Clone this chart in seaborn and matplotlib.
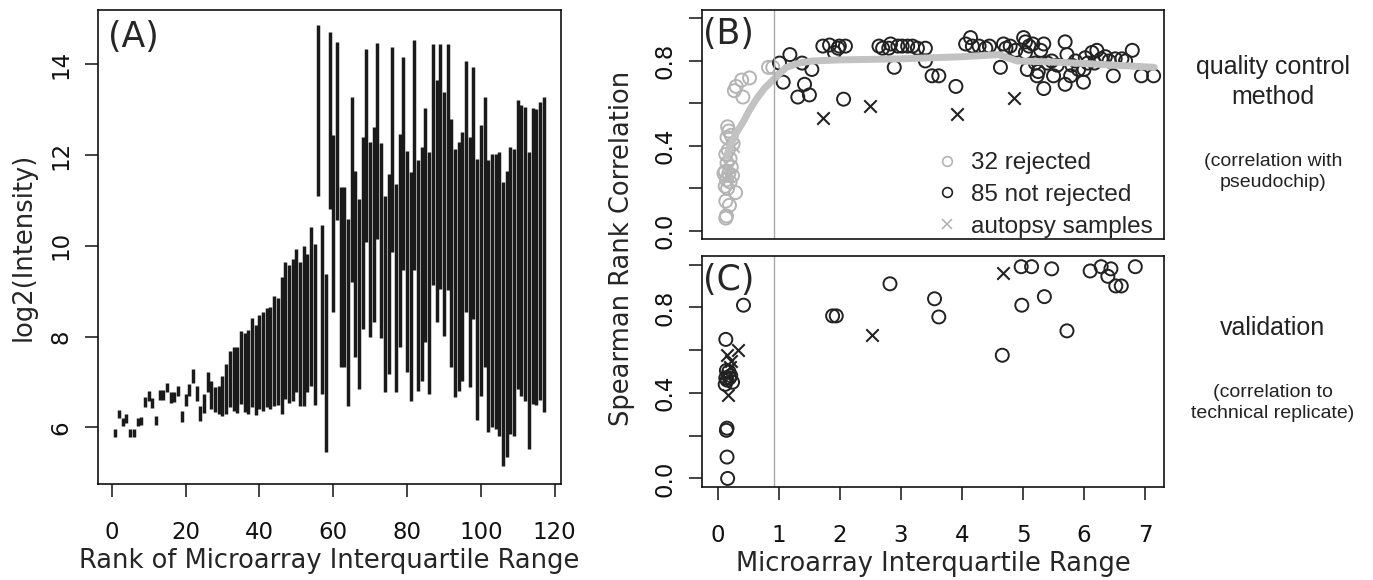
import numpy as np
import pandas as pd
import matplotlib
matplotlib.use("Agg")
import matplotlib.pyplot as plt
from matplotlib.lines import Line2D
import seaborn as sns

# (A) interquartile range of log2 intensity for each array, ordered by rank
iqr_rank = list(range(1, 118))
iqr_low = [5.78, 6.20, 6.03, 6.10, 5.78, 5.78, 6.03, 6.05, 6.45, 6.59,
           6.43, 6.04, 6.61, 6.61, 6.77, 6.53, 6.55, 6.69, 6.11, 6.48,
           6.70, 6.98, 6.59, 6.13, 6.32, 6.78, 6.41, 6.34, 6.30, 6.26,
           6.30, 6.45, 6.37, 6.32, 6.51, 6.34, 6.29, 6.44, 6.27, 6.41,
           6.37, 6.44, 6.41, 6.48, 6.49, 6.29, 6.62, 6.53, 6.58, 6.78,
           6.48, 6.48, 6.78, 6.92, 6.50, 11.11, 6.74, 5.46, 10.82, 8.54,
           10.56, 7.32, 7.32, 6.48, 9.20, 7.55, 6.85, 8.17, 10.08, 7.99,
           8.32, 10.16, 7.97, 6.77, 7.18, 9.86, 6.77, 7.77, 9.46, 7.21,
           6.59, 9.46, 6.81, 7.03, 7.88, 6.74, 9.13, 8.32, 9.05, 8.02,
           9.02, 7.32, 6.66, 6.81, 7.03, 8.54, 6.88, 8.39, 6.15, 6.70,
           7.32, 5.89, 6.00, 5.96, 5.81, 5.15, 5.34, 5.85, 5.80, 6.85,
           6.70, 6.59, 5.52, 6.52, 6.50, 6.60, 6.33]
iqr_high = [5.96, 6.38, 6.20, 6.29, 5.96, 5.96, 6.20, 6.22, 6.66, 6.79,
            6.64, 6.26, 6.83, 6.83, 6.98, 6.77, 6.78, 6.92, 6.37, 6.74,
            6.96, 7.29, 6.90, 6.48, 6.73, 7.22, 7.03, 6.89, 6.92, 7.14,
            7.40, 7.69, 7.77, 7.76, 8.12, 8.07, 8.15, 8.40, 8.26, 8.48,
            8.55, 8.62, 8.65, 8.89, 8.85, 9.31, 9.64, 9.58, 9.70, 9.92,
            9.64, 10.00, 9.83, 10.41, 10.05, 14.87, 10.47, 9.37, 14.72, 12.44,
            14.50, 11.30, 11.30, 10.60, 13.28, 11.66, 11.04, 12.40, 14.35, 12.29,
            12.62, 14.48, 12.26, 11.11, 11.59, 14.39, 11.36, 12.47, 14.17, 12.10,
            11.63, 14.53, 11.89, 12.18, 13.03, 12.07, 14.46, 13.65, 14.46, 13.39,
            14.44, 12.80, 12.14, 12.29, 12.51, 14.07, 12.40, 13.95, 11.92, 12.66,
            13.28, 11.89, 12.03, 12.03, 12.07, 11.41, 11.64, 12.18, 12.14, 13.21,
            13.11, 13.06, 12.07, 13.03, 13.02, 13.18, 13.28]

# (B) correlation with pseudochip vs IQR
rej_x = [0.13, 0.14, 0.13, 0.29, 0.16, 0.14, 0.20, 0.18, 0.12, 0.22,
         0.15, 0.13, 0.20, 0.17, 0.15, 0.18, 0.16, 0.22, 0.27, 0.30,
         0.41, 0.39, 0.52, 0.83, 0.90, 0.25, 0.12, 0.19, 0.10, 0.24]
rej_y = [0.06, 0.07, 0.14, 0.18, 0.20, 0.24, 0.23, 0.27, 0.28, 0.30,
         0.32, 0.36, 0.34, 0.38, 0.44, 0.47, 0.49, 0.45, 0.66, 0.68,
         0.63, 0.71, 0.72, 0.77, 0.77, 0.41, 0.21, 0.12, 0.27, 0.26]
keep_x = [1.01, 1.18, 1.07, 1.38, 1.54, 1.31, 1.42, 1.50, 2.06, 1.72,
          1.83, 1.91, 1.99, 2.09, 2.64, 2.83, 2.80, 2.89, 3.02, 3.19,
          3.40, 3.40, 3.51, 3.62, 3.90, 4.06, 4.14, 4.28, 4.39, 4.63,
          4.68, 4.79, 4.88, 5.01, 5.04, 5.04, 5.07, 5.16, 5.23, 5.34,
          5.34, 5.47, 5.50, 5.69, 5.72, 5.69, 5.91, 5.99, 6.02, 6.13,
          6.21, 6.35, 6.51, 6.48, 6.62, 6.79, 6.94, 7.14, 1.97, 2.70,
          2.95, 3.11, 3.27, 4.17, 4.45, 4.72, 5.10, 5.20, 5.29, 5.40,
          5.56, 5.80, 5.86, 6.06, 6.17, 6.28, 6.41, 6.68, 5.25, 5.78,
          6.00]
keep_y = [0.79, 0.83, 0.70, 0.79, 0.76, 0.63, 0.69, 0.64, 0.62, 0.87,
          0.875, 0.84, 0.87, 0.87, 0.87, 0.88, 0.86, 0.77, 0.87, 0.87,
          0.86, 0.80, 0.73, 0.73, 0.68, 0.88, 0.91, 0.87, 0.86, 0.77,
          0.88, 0.87, 0.85, 0.91, 0.89, 0.84, 0.76, 0.88, 0.73, 0.88,
          0.67, 0.80, 0.73, 0.89, 0.83, 0.69, 0.76, 0.70, 0.815, 0.84,
          0.85, 0.82, 0.81, 0.73, 0.81, 0.85, 0.73, 0.73, 0.86, 0.86,
          0.87, 0.87, 0.86, 0.87, 0.87, 0.86, 0.87, 0.79, 0.85, 0.79,
          0.78, 0.78, 0.80, 0.79, 0.79, 0.81, 0.80, 0.80, 0.75, 0.73,
          0.76]
aut_rej_x = [0.24, 0.17]
aut_rej_y = [0.40, 0.26]
aut_keep_x = [1.73, 2.49, 3.92, 4.85]
aut_keep_y = [0.53, 0.59, 0.55, 0.625]
smooth_x = [0.14, 0.20, 0.30, 0.41, 0.52, 0.63, 0.76, 0.90, 1.12, 1.33, 1.55, 2.0, 3.0, 4.0, 4.6, 4.9, 5.5, 6.2, 7.15]
smooth_y = [0.35, 0.40, 0.46, 0.51, 0.57, 0.62, 0.67, 0.71, 0.77, 0.79, 0.80, 0.805, 0.81, 0.82, 0.83, 0.80, 0.795, 0.785, 0.77]

# (C) correlation to technical replicate vs IQR
val_x = [0.16, 0.15, 0.14, 0.15, 0.13, 0.42, 0.12, 0.15, 0.19, 0.24,
         0.14, 0.18, 0.21, 0.13, 1.88, 1.94, 2.82, 3.55, 3.62, 4.66,
         4.97, 5.14, 4.98, 5.47, 5.35, 5.72, 6.10, 6.28, 6.44, 6.39,
         6.52, 6.61, 6.84]
val_y = [0.00, 0.10, 0.225, 0.235, 0.65, 0.81, 0.44, 0.46, 0.47, 0.45,
         0.505, 0.50, 0.48, 0.47, 0.76, 0.76, 0.91, 0.84, 0.755, 0.576,
         0.99, 0.99, 0.81, 0.98, 0.85, 0.69, 0.97, 0.99, 0.98, 0.945,
         0.90, 0.90, 0.99]
val_aut_x = [0.15, 0.33, 0.16, 0.20, 0.17, 0.22, 2.53, 4.68]
val_aut_y = [0.575, 0.60, 0.39, 0.52, 0.48, 0.55, 0.67, 0.96]

cutoff = 0.92
light = "#b4b4b4"
dark = "#222222"

sns.set_style("ticks")
plt.rcParams["font.family"] = ["DejaVu Sans"]
plt.rcParams["axes.edgecolor"] = "#111111"
plt.rcParams["axes.linewidth"] = 1.2
for a in ("x", "y"):
    plt.rcParams[f"{a}tick.major.size"] = 9.5
    plt.rcParams[f"{a}tick.major.width"] = 1.1
    plt.rcParams[f"{a}tick.labelsize"] = 16.5
    plt.rcParams[f"{a}tick.color"] = "#111111"
plt.rcParams["xtick.major.pad"] = 17
plt.rcParams["ytick.major.pad"] = 9

W, H = 1373, 580
fig = plt.figure(figsize=(W / 100, H / 100), dpi=100)
axA = fig.add_axes([98.3 / W, 1 - 484 / H, 462.4 / W, 474 / H])
axB = fig.add_axes([702 / W, 1 - 239.3 / H, 462 / W, 229.3 / H])
axC = fig.add_axes([702 / W, 1 - 487 / H, 462 / W, 231 / H])

# ---- panel A ----
dfA = pd.DataFrame({
    "rank": iqr_rank + iqr_rank,
    "value": iqr_low + iqr_high,
})
sns.lineplot(data=dfA, x="rank", y="value", units="rank", estimator=None,
             color="#1a1a1a", lw=2.5, solid_capstyle="butt", ax=axA, legend=False)
axA.set_xlim(-3.64, 121.64)
axA.set_ylim(4.75, 15.2)
axA.set_xticks(range(0, 121, 20))
axA.set_yticks([6, 8, 10, 12, 14])
for t in axA.get_yticklabels():
    t.set_rotation(90)
    t.set_va("center")
axA.set_xlabel("Rank of Microarray Interquartile Range", fontsize=18.5, labelpad=3)
axA.set_ylabel("log2(Intensity)", fontsize=18.5, labelpad=9)
axA.text(0.02, 0.978, "(A)", transform=axA.transAxes, fontsize=25, va="top", ha="left")

# ---- panel B ----
circ = dict(marker="o", s=88, facecolor="none", linewidth=1.4)
sns.lineplot(x=smooth_x, y=smooth_y, color="#c2c2c2", lw=5, sort=False, ax=axB)
axB.axvline(cutoff, color="#aaaaaa", lw=1)
sns.scatterplot(x=rej_x, y=rej_y, color=light, edgecolor=light, ax=axB, **circ)
sns.scatterplot(x=keep_x, y=keep_y, color=dark, edgecolor=dark, ax=axB, **circ)
sns.scatterplot(x=aut_rej_x, y=aut_rej_y, marker="x", s=80, color=light, linewidth=1.5, ax=axB)
sns.scatterplot(x=aut_keep_x, y=aut_keep_y, marker="x", s=80, color=dark, linewidth=1.5, ax=axB)
axB.set_xlim(-0.26, 7.31)
axB.set_ylim(-0.04, 1.04)
axB.set_xticks([])
axB.text(0.003, 0.97, "(B)", transform=axB.transAxes, fontsize=25, va="top", ha="left")

handles = [
    Line2D([], [], ls="", marker="o", ms=7, mfc="none", mec=light, mew=1.2),
    Line2D([], [], ls="", marker="o", ms=7, mfc="none", mec=dark, mew=1.2),
    Line2D([], [], ls="", marker="x", ms=7, mec=light, mew=1.2),
]
axB.legend(handles, ["32 rejected", "85 not rejected", "autopsy samples"],
           loc="lower right", bbox_to_anchor=(1.0, -0.04), frameon=False,
           prop={"family": "Liberation Sans", "size": 17.5},
           handlelength=1.0, handletextpad=0.5, labelspacing=0.4,
           borderaxespad=0.1, borderpad=0.35)

# ---- panel C ----
axC.axvline(cutoff, color="#aaaaaa", lw=1)
sns.scatterplot(x=val_x, y=val_y, color=dark, edgecolor=dark, ax=axC, **circ)
sns.scatterplot(x=val_aut_x, y=val_aut_y, marker="x", s=80, color=dark, linewidth=1.5, ax=axC)
axC.set_xlim(-0.26, 7.31)
axC.set_ylim(-0.04, 1.04)
axC.set_xticks(range(0, 8))
axC.set_xlabel("Microarray Interquartile Range", fontsize=18.5, labelpad=3)
axC.text(0.003, 0.97, "(C)", transform=axC.transAxes, fontsize=25, va="top", ha="left")

for ax in (axB, axC):
    ax.set_yticks([0, 0.2, 0.4, 0.6, 0.8, 1.0])
    ax.set_yticklabels(["0.0", "", "0.4", "", "0.8", ""], rotation=90, va="center")
    ax.set_ylabel("")

for ax in (axA, axB, axC):
    for s in ax.spines.values():
        s.set_visible(True)

fig.text(622 / W, 1 - 248 / H, "Spearman Rank Correlation", rotation=90,
         ha="center", va="center", fontsize=18.5)

side = {"family": "Liberation Sans", "ha": "center", "va": "center", "color": "#222222"}
fig.text(1273 / W, 1 - 82 / H, "quality control\nmethod", fontsize=18, linespacing=1.3, **side)
fig.text(1273 / W, 1 - 172 / H, "(correlation with\npseudochip)", fontsize=14, linespacing=1.25, **side)
fig.text(1273 / W, 1 - 328 / H, "validation", fontsize=18, **side)
fig.text(1273 / W, 1 - 403 / H, "(correlation to\ntechnical replicate)", fontsize=14, linespacing=1.3, **side)

fig.savefig("out.png", dpi=100)
